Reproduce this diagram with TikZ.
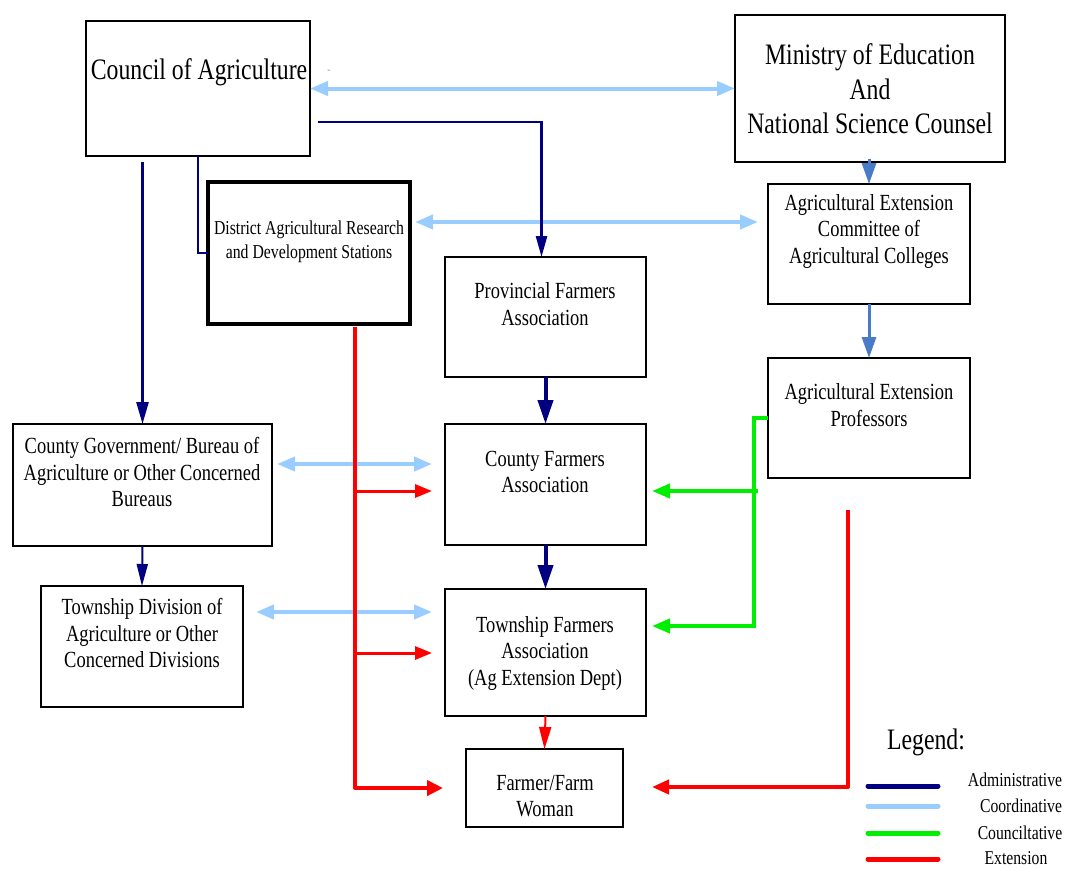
\documentclass[tikz,border=0pt]{standalone}
\usepackage{fontspec}
\setmainfont{Liberation Serif}[FakeStretch=0.8]
\usetikzlibrary{arrows.meta,fit}
\definecolor{adm}{HTML}{000080}
\definecolor{coord}{HTML}{99CCFF}
\definecolor{cons}{HTML}{00EE00}
\definecolor{ext}{HTML}{FF0000}
\definecolor{steel}{HTML}{4A7BC8}
\newcommand\bigtxt{\fontsize{29.7}{34.5}\selectfont}
\newcommand\midtxt{\fontsize{23.1}{26.5}\selectfont}
\newcommand\smalltxt{\fontsize{19.7}{24}\selectfont}
\newcommand\legtxt{\fontsize{19.6}{22}\selectfont}
\begin{document}
\begin{tikzpicture}[x=1pt,y=-1pt,
  box/.style={draw=black, line width=2.6pt, inner sep=0pt, outer sep=0pt},
  txt/.style={align=center, inner sep=0pt, text=black},
  bigt/.style={txt, font=\bigtxt},
  midt/.style={txt, font=\midtxt},
  smallt/.style={txt, font=\smalltxt},
  legt/.style={txt, font=\legtxt},
  coordline/.style={draw=coord, line width=4pt, {Triangle[length=18pt,width=14pt]}-{Triangle[length=18pt,width=14pt]}},
  admline/.style={draw=adm, line width=2.6pt},
  admthick/.style={draw=adm, line width=4pt, -{Triangle[length=24pt,width=15pt]}},
  admthin/.style={draw=adm, line width=2pt},
  steelarrow/.style={draw=steel, line width=3pt, -{Triangle[length=21pt,width=14pt]}},
  extthick/.style={draw=ext, line width=4pt, line join=round},
  extbranch/.style={draw=ext, line width=3pt, -{Triangle[length=17pt,width=13pt]}},
  consline/.style={draw=cons, line width=4pt, -{Triangle[length=18pt,width=14pt]}},
  legline/.style={line width=5pt, line cap=round}]
\useasboundingbox (0,0) rectangle (1067,868);

% boxes
\node[box, fit={(86,21) (310,156)}] (council) {};
\node[box, fit={(735,15) (1005,162)}] (ministry) {};
\node[box, line width=3.6pt, fit={(208,182) (410,324)}] (district) {};
\node[box, fit={(768,184) (970,304)}] (committee) {};
\node[box, fit={(768,358) (970,478)}] (prof) {};
\node[box, fit={(445,257) (646,377)}] (provincial) {};
\node[box, fit={(445,424) (646,545)}] (countyfa) {};
\node[box, fit={(445,589) (646,716)}] (townfa) {};
\node[box, fit={(466,749) (623,827)}] (farmer) {};
\node[box, fit={(13,424) (272,546)}] (countygov) {};
\node[box, fit={(41,586) (243,707)}] (towndiv) {};

% texts
\node[bigt] (tcouncil) at (199,72) {Council of Agriculture};
\node[txt, text=steel!70, font=\fontsize{12}{12}\selectfont] (tdash) at (329,72) {-};
\node[bigt] (tministry) at (870,89) {Ministry of Education\\And\\National Science Counsel};
\node[smallt] (tdistrict) at (309,242) {District Agricultural Research\\and Development Stations};
\node[midt] (tcommittee) at (869,231) {Agricultural Extension\\Committee of\\Agricultural Colleges};
\node[midt] (tprof) at (869,405) {Agricultural Extension\\Professors};
\node[midt] (tprovincial) at (545,304) {Provincial Farmers\\Association};
\node[midt] (tcountyfa) at (545,472) {County Farmers\\Association};
\node[midt] (ttownfa) at (545,653) {Township Farmers\\Association\\(Ag Extension Dept)};
\node[midt] (tfarmer) at (545,796) {Farmer/Farm\\Woman};
\node[midt] (tcountygov) at (142,472) {County Government/ Bureau of\\Agriculture or Other Concerned\\Bureaus};
\node[midt] (ttowndiv) at (142,633) {Township Division of\\Agriculture or Other\\Concerned Divisions};

% coordinative
\draw[coordline] (council.east) -- (council.east -| ministry.west);
\draw[coordline] ([xshift=5pt]district.east |- 0,222) -- ([xshift=-10pt]committee.west |- 0,222);
\draw[coordline] ([xshift=5pt]countygov.east |- 0,464) -- ([xshift=-13pt]countyfa.west |- 0,464);
\draw[coordline] ([xshift=13pt]towndiv.east |- 0,612) -- ([xshift=-13pt]townfa.west |- 0,612);

% administrative
\coordinate (c1) at (318,122);
\draw[admline, -{Triangle[length=21pt,width=11pt]}] (c1) -| ([xshift=-4pt]provincial.north);
\draw[admline, -{Triangle[length=22pt,width=12pt]}] ([yshift=-6pt]council.south -| countygov.north) -- (countygov.north);
\draw[admthin] (council.south -| 198,0) |- (district.west |- 0,253);
\draw[admthick] (provincial.south) -- (countyfa.north);
\draw[admthick] (countyfa.south) -- (townfa.north);
\draw[admthin, -{Triangle[length=22pt,width=11pt]}] (countygov.south) -- (towndiv.north);

% ministry chain
\draw[steelarrow] ([yshift=3pt]ministry.south -| committee.north) -- (committee.north);
\draw[steelarrow] (committee.south) -- (prof.north);

% extension
\draw[extthick, -{Triangle[length=16pt,width=15pt]}] ([yshift=-3pt]district.south -| 355,0) |- ([xshift=-23pt]farmer.west);
\draw[extbranch] (355,491) -- ([xshift=-13pt]countyfa.west |- 0,491);
\draw[extbranch] (355,653) -- ([xshift=-13pt]townfa.west |- 0,653);
\draw[draw=ext, line width=2pt, -{Triangle[length=22pt,width=12pt]}] (townfa.south) -- (farmer.north);
\coordinate (r0) at (848,510);
\draw[extthick, -{Triangle[length=17pt,width=14pt]}] (r0) |- ([xshift=29pt]farmer.east |- 0,787);

% consultative
\draw[consline] (prof.west |- 0,418) -- (754,418) -- (754,626) -- ([xshift=6pt]townfa.east |- 0,626);
\draw[consline] (758,491) -- ([xshift=6pt]countyfa.east |- 0,491);

% legend
\node[bigt] (legend) at (926,742) {Legend:};
\coordinate (la1) at (868,786); \coordinate (lb1) at (938,786);
\coordinate (la2) at (868,806); \coordinate (lb2) at (938,806);
\coordinate (la3) at (868,833); \coordinate (lb3) at (938,833);
\coordinate (la4) at (868,859); \coordinate (lb4) at (938,859);
\draw[legline, adm] (la1) -- (lb1);
\draw[legline, coord] (la2) -- (lb2);
\draw[legline, cons] (la3) -- (lb3);
\draw[legline, ext] (la4) -- (lb4);
\node[legt] (l1) at (1015,780) {Administrative};
\node[legt] (l2) at (1021,806) {Coordinative};
\node[legt] (l3) at (1020,833) {Counciltative};
\node[legt] (l4) at (1016,858) {Extension};
\end{tikzpicture}
\end{document}
